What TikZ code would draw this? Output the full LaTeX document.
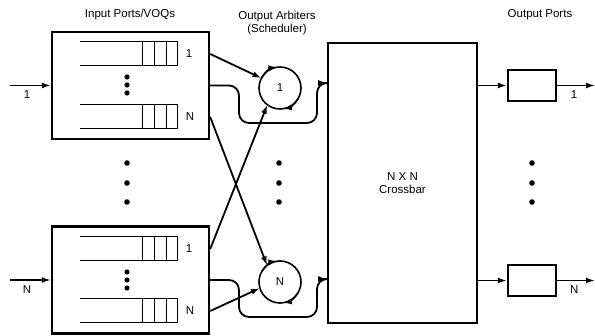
\documentclass[tikz,border=0pt]{standalone}
\usepackage{fontspec}
\setmainfont{Liberation Sans}
\usetikzlibrary{arrows.meta}

\begin{document}
\begin{tikzpicture}[x=1pt,y=1pt,>={Latex[length=9pt,width=6pt]},
  font=\fontsize{11.5}{13.5}\selectfont,
  port/.style={draw,line width=2.4pt,minimum width=157pt,minimum height=107pt,inner sep=0pt},
  arb/.style={draw,circle,line width=1.6pt,minimum size=42pt,inner sep=0pt,outer sep=0pt},
  obuf/.style={draw,line width=2.2pt,minimum width=48pt,minimum height=31pt,inner sep=0pt},
  wire/.style={->,line width=1.8pt},
  qline/.style={line width=1pt}]
\useasboundingbox (0,0) rectangle (595,-336);
\node (tin) at (130,-15) {Input Ports/VOQs};
\node[align=center] (tarb) at (277,-23) {Output Arbiters\\(Scheduler)};
\node (tout) at (540,-15) {Output Ports};
\node[port] (ip1) at (130.5,-85.5) {};
\node[port] (ipN) at (130.5,-280) {};
\foreach \y in {-54,-116.5,-249,-311} {
  \draw[qline] (80,\y+12) -- (177,\y+12) -- (177,\y-12) -- (80,\y-12);
  \foreach \x in {142,154,166} \draw[qline] (\x,\y+12) -- (\x,\y-12);
}
\node (ip1a) at (189,-54) {1};
\node (ip1b) at (190,-117) {N};
\node (ipNa) at (189,-249) {1};
\node (ipNb) at (190,-311) {N};
\foreach \y in {-77,-85,-93,-272,-280,-288} \fill (127,\y) circle (2.6pt);
\foreach \x in {127,279,532} \foreach \y in {-163,-183,-202} \fill (\x,\y) circle (2.8pt);
\coordinate (in1) at (10,-85.5);
\coordinate (inN) at (10,-280);
\draw[wire] (in1) -- node[pos=0.42,below=1pt] (lin1) {1} (ip1);
\draw[wire] (inN) -- node[pos=0.42,below=1pt] (linN) {N} (ipN);
\node[arb] (arb1) at (280,-88) {1};
\node[arb] (arbN) at (280,-282) {N};
\foreach \a in {arb1,arbN} {
  \draw[->,line width=1.6pt] (\a.150) arc[start angle=150,end angle=97,radius=21];
  \draw[->,line width=1.6pt] (\a.-30) arc[start angle=-30,end angle=-82,radius=21];
}
\draw[wire] (ip1.east |- ip1a) -- (arb1.152);
\draw[wire] (ipN.east |- ipNa) -- (arb1.233);
\draw[wire] (ip1.east |- ip1b) -- (arbN.128);
\draw[wire] (ipN.east |- ipNb) -- (arbN.197);
\node[draw,line width=1.8pt,minimum width=149pt,minimum height=280pt,align=center] (xbar) at (402.5,-183) {N X N\\Crossbar};
\draw[wire,rounded corners=10pt] (ip1.east) -- (239,-85.5) -- (239,-123) -- (317,-123) -- (317,-83) -- (xbar.west |- 0,-83);
\draw[wire,rounded corners=10pt] (ipN.east) -- (239,-280) -- (239,-317) -- (317,-317) -- (317,-279) -- (xbar.west |- 0,-279);
\node[obuf] (op1) at (532,-85.5) {};
\node[obuf] (opN) at (532,-280.5) {};
\draw[wire] (xbar.east |- op1) -- (op1);
\draw[wire] (xbar.east |- opN) -- (opN);
\coordinate (out1) at (595,-85.5);
\coordinate (outN) at (595,-280.5);
\draw[wire] (op1) -- node[pos=0.45,below=1pt] (lout1) {1} (out1);
\draw[wire] (opN) -- node[pos=0.45,below=1pt] (loutN) {N} (outN);
\end{tikzpicture}
\end{document}
